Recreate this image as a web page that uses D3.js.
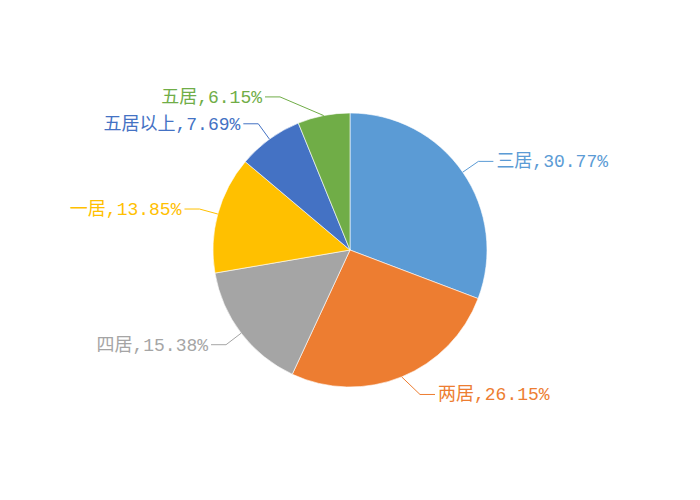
<!DOCTYPE html>
<html><head><meta charset="utf-8">
<script src="https://cdn.jsdelivr.net/npm/d3@7"></script>
<style>body{margin:0;background:#fff}</style>
</head><body>
<svg id="chart" width="700" height="500"></svg>
<script>
const categories = ["三居", "两居", "四居", "一居", "五居以上", "五居"];
const counts = [20, 17, 10, 9, 5, 4];
const percentLabels = ["30.77%", "26.15%", "15.38%", "13.85%", "7.69%", "6.15%"];
const colors = ["#5B9BD5", "#ED7D31", "#A5A5A5", "#FFC000", "#4472C4", "#70AD47"];

const svg = d3.select("#chart");
const cx = 350, cy = 250, r = 137;
const g = svg.append("g").attr("transform", `translate(${cx},${cy})`);

const data = categories.map((c, i) => ({cat: c, value: counts[i], label: percentLabels[i], color: colors[i]}));
const pie = d3.pie().sort(null).value(d => d.value).startAngle(0).endAngle(2 * Math.PI);
const arcs = pie(data);
const arc = d3.arc().innerRadius(0).outerRadius(r);

g.selectAll("path.slice").data(arcs).join("path")
  .attr("class", "slice")
  .attr("d", arc)
  .attr("fill", d => d.data.color)
  .attr("stroke", "#fff")
  .attr("stroke-width", 0.6);

const labelR = 156;
arcs.forEach(d => {
  const a = (d.startAngle + d.endAngle) / 2;
  const sx = r * Math.sin(a), sy = -r * Math.cos(a);
  const side = Math.sin(a) >= 0 ? 1 : -1;
  let ex = labelR * Math.sin(a);
  if (Math.abs(ex) < 70) ex = side * 70;
  const ey = -labelR * Math.cos(a);
  const hx = ex + side * 15;
  g.append("polyline")
    .attr("points", `${sx},${sy} ${ex},${ey} ${hx},${ey}`)
    .attr("fill", "none")
    .attr("stroke", d.data.color)
    .attr("stroke-width", 1);
  g.append("text")
    .attr("x", hx + side * 3)
    .attr("y", ey + 1)
    .attr("text-anchor", side > 0 ? "start" : "end")
    .attr("dominant-baseline", "central")
    .attr("fill", d.data.color)
    .style("font-family", "'Liberation Mono', 'Noto Sans CJK SC', monospace")
    .style("font-size", "18px")
    .text(`${d.data.cat},${d.data.label}`);
});
</script>
</body></html>
